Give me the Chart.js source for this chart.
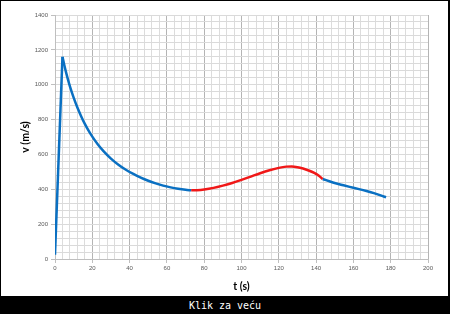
<!DOCTYPE html>
<html>
<head>
<meta charset="utf-8">
<script src="https://cdn.jsdelivr.net/npm/chart.js@4/dist/chart.umd.min.js"></script>
<style>
    html, body { margin: 0; padding: 0; background: #fff; }
    #frame { position: relative; width: 450px; height: 314px; background: #000; }
    #plot { position: absolute; left: 1px; top: 1px; width: 447px; height: 295px; background: #fff; }
    #cap {
        position: absolute; left: 0; top: 297px; width: 450px; height: 17px;
        color: #fff; font: 10px "DejaVu Sans Mono", monospace;
        text-align: center; line-height: 17px;
    }
</style>
</head>
<body>
<div id="frame">
    <div id="plot"><canvas id="speedChart" width="447" height="295"></canvas></div>
    <div id="cap">Klik za veću</div>
</div>
<script>
// start of the flight: fast climb to the peak
const tRise = [0, 4];
const vRise = [25, 1160];

// decay after the peak (blue)
const tBlue1 = [4, 5, 6, 7, 8, 10, 12, 14, 16, 18, 20, 23, 26, 30, 34, 38, 42, 46, 50, 54, 58, 62, 66, 70, 73];
const vBlue1 = [1160, 1112, 1068, 1028, 991, 926, 869, 819, 775, 736, 702, 657, 619, 576, 541, 512, 488, 467, 449, 434, 421, 411, 403, 397, 394];

// red hump
const tRed = [73, 76, 80, 85, 90, 95, 100, 105, 110, 115, 120, 124, 127, 130, 133, 136, 139, 141.5, 143.5];
const vRed = [394, 395, 399, 408, 421, 436, 454, 473, 492, 509, 523, 530, 531, 527, 519, 508, 494, 478, 459];

// tail (blue)
const tBlue2 = [143.5, 149, 154, 158, 163, 167, 171, 175, 177.5];
const vBlue2 = [459, 439, 425, 414, 401, 390, 378, 364, 354];

const xTicks = { min: 0, max: 200, minor: 4, major: 20 };
const yTicks = { min: 0, max: 1400, minor: 40, major: 200 };

const BLUE = '#0a70c2';
const RED = '#f01818';

function toPoints(ts, vs) {
    return ts.map((t, i) => ({ x: t, y: vs[i] }));
}

function lineSet(ts, vs, color, smooth) {
    return {
        data: toPoints(ts, vs),
        borderColor: color,
        backgroundColor: color,
        borderWidth: 2.5,
        pointRadius: 0,
        fill: false,
        cubicInterpolationMode: smooth ? 'monotone' : 'default',
        tension: 0
    };
}

const tickFont = { family: 'Liberation Sans, Arial, sans-serif', size: 6 };
const titleFont = { family: 'Lato, sans-serif', size: 10.5, weight: 'bold' };

new Chart(document.getElementById('speedChart').getContext('2d'), {
    type: 'line',
    data: {
        datasets: [
            lineSet(tRise, vRise, BLUE, false),
            lineSet(tBlue1, vBlue1, BLUE, true),
            lineSet(tRed, vRed, RED, true),
            lineSet(tBlue2, vBlue2, BLUE, true)
        ]
    },
    options: {
        responsive: false,
        animation: false,
        layout: { padding: { top: 14, right: 20, left: 0, bottom: 0 } },
        plugins: {
            legend: { display: false },
            tooltip: { enabled: false }
        },
        scales: {
            x: {
                type: 'linear',
                min: xTicks.min,
                max: xTicks.max,
                afterFit: s => { s.height = 37; },
                ticks: {
                    stepSize: xTicks.minor,
                    autoSkip: false,
                    maxRotation: 0,
                    padding: 2,
                    color: '#595959',
                    font: tickFont,
                    callback: v => (v % xTicks.major === 0 ? v : '')
                },
                grid: {
                    tickLength: 4,
                    color: c => (c.tick && c.tick.value % xTicks.major === 0 ? '#b4b4b4' : '#dcdcdc'),
                    tickColor: c => (c.tick && c.tick.value % xTicks.major === 0 ? '#bfbfbf' : 'rgba(0,0,0,0)')
                },
                border: { color: '#bfbfbf' },
                title: {
                    display: true,
                    text: 't (s)',
                    color: '#000',
                    font: titleFont,
                    padding: { top: 0, bottom: 3 }
                }
            },
            y: {
                min: yTicks.min,
                max: yTicks.max,
                afterFit: s => { s.width = 54; },
                ticks: {
                    stepSize: yTicks.minor,
                    autoSkip: false,
                    padding: 3,
                    color: '#595959',
                    font: tickFont,
                    callback: v => (v % yTicks.major === 0 ? v : '')
                },
                grid: {
                    tickLength: 4,
                    color: c => (c.tick && c.tick.value === 0 ? '#bfbfbf' : '#dadada'),
                    tickColor: c => (c.tick && c.tick.value % yTicks.major === 0 ? '#bfbfbf' : 'rgba(0,0,0,0)')
                },
                border: { color: '#bfbfbf' },
                title: {
                    display: true,
                    text: 'v (m/s)',
                    color: '#000',
                    font: titleFont,
                    padding: { top: 18, bottom: 0 }
                }
            }
        }
    }
});
</script>
</body>
</html>
